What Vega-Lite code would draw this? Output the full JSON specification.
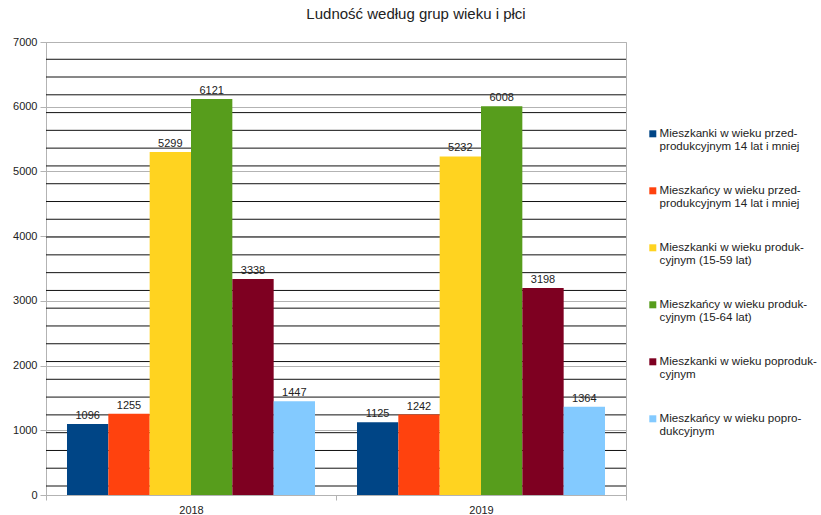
{
  "$schema": "https://vega.github.io/schema/vega-lite/v6.json",
  "width": 580,
  "height": 453,
  "autosize": {"type": "none"},
  "padding": {"left": 46, "top": 42, "right": 195, "bottom": 20},
  "background": "white",
  "config": {
    "font": "Liberation Sans",
    "view": {"stroke": "#b3b3b3", "strokeWidth": 1, "fill": "white"},
    "axis": {"labelColor": "#222", "labelFontSize": 11, "labelFont": "Liberation Sans", "tickColor": "#b3b3b3", "domainColor": "#b3b3b3", "gridColor": "#b3b3b3"}
  },
  "title": {
    "text": "Ludność według grup wieku i płci",
    "fontSize": 15,
    "fontWeight": "normal",
    "color": "#222",
    "font": "Liberation Sans",
    "offset": 14,
    "dx": 80
  },
  "datasets": {
    "bars": [
      {"rok": "2018", "grupa": "Mieszkanki w wieku przedprodukcyjnym 14 lat i mniej", "liczba": 1096},
      {"rok": "2018", "grupa": "Mieszkańcy w wieku przedprodukcyjnym 14 lat i mniej", "liczba": 1255},
      {"rok": "2018", "grupa": "Mieszkanki w wieku produkcyjnym (15-59 lat)", "liczba": 5299},
      {"rok": "2018", "grupa": "Mieszkańcy w wieku produkcyjnym (15-64 lat)", "liczba": 6121},
      {"rok": "2018", "grupa": "Mieszkanki w wieku poprodukcyjnym", "liczba": 3338},
      {"rok": "2018", "grupa": "Mieszkańcy w wieku poprodukcyjnym", "liczba": 1447},
      {"rok": "2019", "grupa": "Mieszkanki w wieku przedprodukcyjnym 14 lat i mniej", "liczba": 1125},
      {"rok": "2019", "grupa": "Mieszkańcy w wieku przedprodukcyjnym 14 lat i mniej", "liczba": 1242},
      {"rok": "2019", "grupa": "Mieszkanki w wieku produkcyjnym (15-59 lat)", "liczba": 5232},
      {"rok": "2019", "grupa": "Mieszkańcy w wieku produkcyjnym (15-64 lat)", "liczba": 6008},
      {"rok": "2019", "grupa": "Mieszkanki w wieku poprodukcyjnym", "liczba": 3198},
      {"rok": "2019", "grupa": "Mieszkańcy w wieku poprodukcyjnym", "liczba": 1364}
    ],
    "lines": [
      {"v": 139}, {"v": 414}, {"v": 688}, {"v": 963}, {"v": 1238}, {"v": 1513}, {"v": 1788}, {"v": 2062}, {"v": 2337}, {"v": 2612}, {"v": 2887}, {"v": 3161}, {"v": 3436}, {"v": 3711}, {"v": 3986}, {"v": 4261}, {"v": 4535}, {"v": 4810}, {"v": 5085}, {"v": 5360}, {"v": 5635}, {"v": 5909}, {"v": 6184}, {"v": 6459}, {"v": 6733}
    ]
  },
  "layer": [
    {
      "data": {"name": "lines"},
      "mark": {"type": "rule", "color": "#111", "strokeWidth": 1},
      "encoding": {
        "y": {"field": "v", "type": "quantitative", "scale": {"domain": [0, 7000], "nice": false}}
      }
    },
    {
      "data": {"name": "bars"},
      "mark": {"type": "bar"},
      "encoding": {
        "x": {"field": "rok", "type": "nominal", "title": null,
              "scale": {"paddingInner": 0, "paddingOuter": 0},
              "axis": {"labelAngle": 0, "tickBand": "extent", "tickSize": 5, "labelPadding": 4, "domain": true}},
        "xOffset": {"field": "grupa", "type": "nominal", "sort": null,
              "scale": {"paddingInner": 0, "paddingOuter": 0.508}},
        "y": {"field": "liczba", "type": "quantitative", "title": null,
              "scale": {"domain": [0, 7000], "nice": false},
              "axis": {"values": [0, 1000, 2000, 3000, 4000, 5000, 6000, 7000], "format": "d", "tickSize": 6, "labelPadding": 3, "grid": true, "domain": true}},
        "color": {"field": "grupa", "type": "nominal", "sort": null,
              "scale": {
                "domain": ["Mieszkanki w wieku przedprodukcyjnym 14 lat i mniej", "Mieszkańcy w wieku przedprodukcyjnym 14 lat i mniej", "Mieszkanki w wieku produkcyjnym (15-59 lat)", "Mieszkańcy w wieku produkcyjnym (15-64 lat)", "Mieszkanki w wieku poprodukcyjnym", "Mieszkańcy w wieku poprodukcyjnym"],
                "range": ["#004586", "#ff420e", "#ffd320", "#579d1c", "#7e0021", "#83caff"]
              },
              "legend": {
                "title": null,
                "orient": "none",
                "legendX": 601,
                "legendY": 86,
                "padding": 0,
                "symbolType": "square",
                "symbolSize": 49,
                "symbolStrokeWidth": 0,
                "labelFontSize": 11.6,
                "labelColor": "#222",
                "labelFont": "Liberation Sans",
                "labelOffset": 1,
                "labelLimit": 300,
                "rowPadding": 31,
                "labelExpr": "datum.label == 'Mieszkanki w wieku przedprodukcyjnym 14 lat i mniej' ? ['Mieszkanki w wieku przed-', 'produkcyjnym 14 lat i mniej'] : datum.label == 'Mieszkańcy w wieku przedprodukcyjnym 14 lat i mniej' ? ['Mieszkańcy w wieku przed-', 'produkcyjnym 14 lat i mniej'] : datum.label == 'Mieszkanki w wieku produkcyjnym (15-59 lat)' ? ['Mieszkanki w wieku produk-', 'cyjnym (15-59 lat)'] : datum.label == 'Mieszkańcy w wieku produkcyjnym (15-64 lat)' ? ['Mieszkańcy w wieku produk-', 'cyjnym (15-64 lat)'] : datum.label == 'Mieszkanki w wieku poprodukcyjnym' ? ['Mieszkanki w wieku poproduk-', 'cyjnym'] : ['Mieszkańcy w wieku popro-', 'dukcyjnym']"
              }}
      }
    },
    {
      "data": {"name": "bars"},
      "mark": {"type": "text", "baseline": "alphabetic", "dy": -5, "fontSize": 11, "color": "#222"},
      "encoding": {
        "x": {"field": "rok", "type": "nominal"},
        "xOffset": {"field": "grupa", "type": "nominal", "sort": null},
        "y": {"field": "liczba", "type": "quantitative"},
        "text": {"field": "liczba", "type": "quantitative"}
      }
    }
  ]
}
